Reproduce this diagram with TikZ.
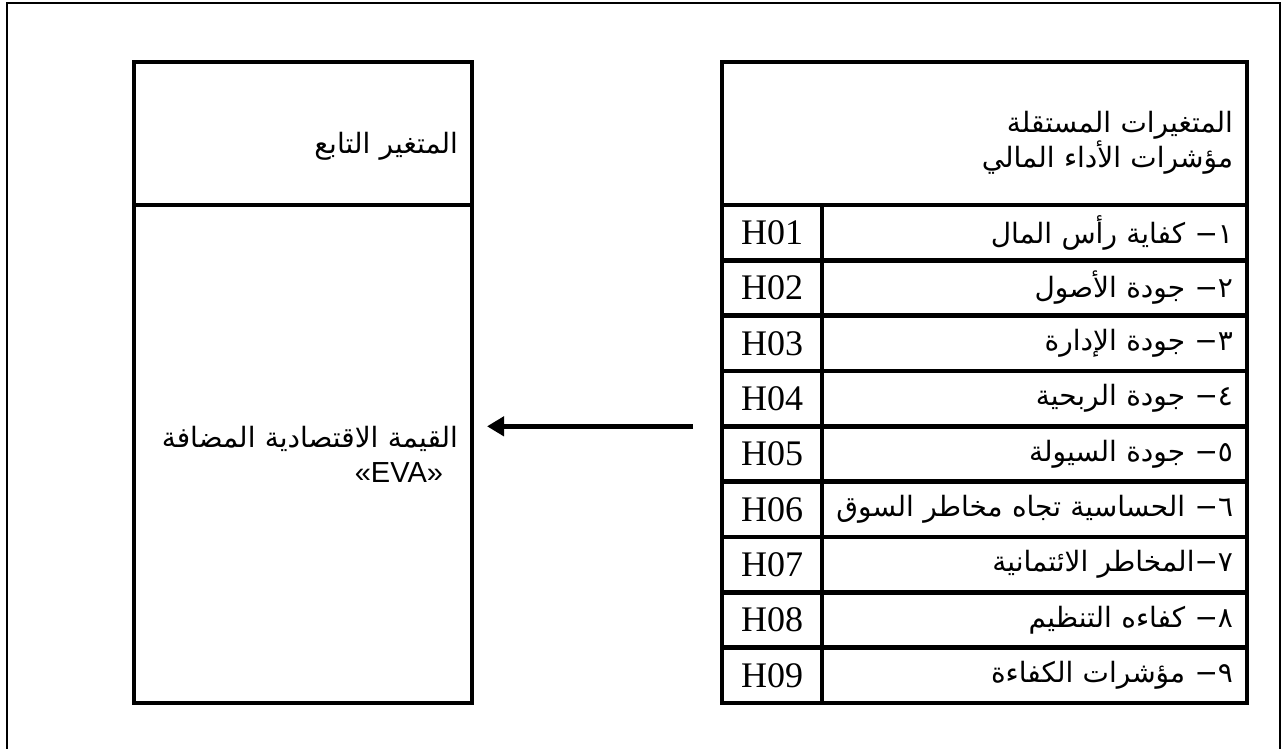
\documentclass[tikz,border=0pt]{standalone}
\usepackage{fontspec}
\newfontfamily\arabicfont[Script=Arabic]{DejaVu Sans}
\newfontfamily\timesfont{Liberation Serif}
\newfontfamily\arialfont{Liberation Sans}
\TeXXeTstate=1
\usetikzlibrary{arrows.meta,positioning}

\tikzset{
  cell/.style={draw, line width=4.5pt, anchor=north west, outer sep=0pt,
    inner xsep=14pt, inner ysep=0pt, align=right,
    font=\arabicfont\fontsize{28}{35}\selectfont},
  codecell/.style={cell, align=center, text width=72pt,
    minimum height=55.33pt, font=\timesfont\fontsize{36}{40}\selectfont},
  itemcell/.style={cell, text width=397pt, minimum height=55.33pt},
}

\begin{document}
\begin{tikzpicture}[x=1pt,y=-1pt]
\useasboundingbox (0,0) rectangle (1283,749);
% page frame
\draw[line width=2pt] (7,749) -- (7,3) -- (1280,3) -- (1280,749);

% dependent variable
\node[cell, text width=310pt, minimum height=143pt] (deptitle) at (134,62)
  {\rule{0pt}{46pt}\beginR المتغير التابع\endR};
\node[cell, text width=310pt, minimum height=498pt] (depbody) at (deptitle.south west)
  {\beginR القيمة الاقتصادية المضافة\endR\\{\arialfont\fontsize{29}{32}\selectfont «EVA»}\hspace*{15pt}\null};

% independent variables
\node[cell, text width=497pt, minimum height=143pt] (indtitle) at (722,62)
  {\rule{0pt}{40pt}\beginR المتغيرات المستقلة\endR\\\beginR مؤشرات الأداء المالي\endR};

\foreach \txt [count=\i] in {{١− كفاية رأس المال}, {٢− جودة الأصول}, {٣− جودة الإدارة},
    {٤− جودة الربحية}, {٥− جودة السيولة}, {٦− الحساسية تجاه مخاطر السوق},
    {٧−المخاطر الائتمانية}, {٨− كفاءه التنظيم}, {٩− مؤشرات الكفاءة}}
{
  \node[codecell] (code\i) at (722,{205+(\i-1)*55.33}) {H0\i};
  \node[itemcell] (item\i) at (code\i.north east) {\beginR\txt\endR};
}

% arrow
\coordinate (arrowend) at (depbody.east |- code4.south west);
\draw[line width=5pt, -{Triangle[length=17pt,width=19pt]}]
  ([xshift=-29pt]code4.south west) -- ([xshift=15pt]arrowend);
\end{tikzpicture}
\end{document}
